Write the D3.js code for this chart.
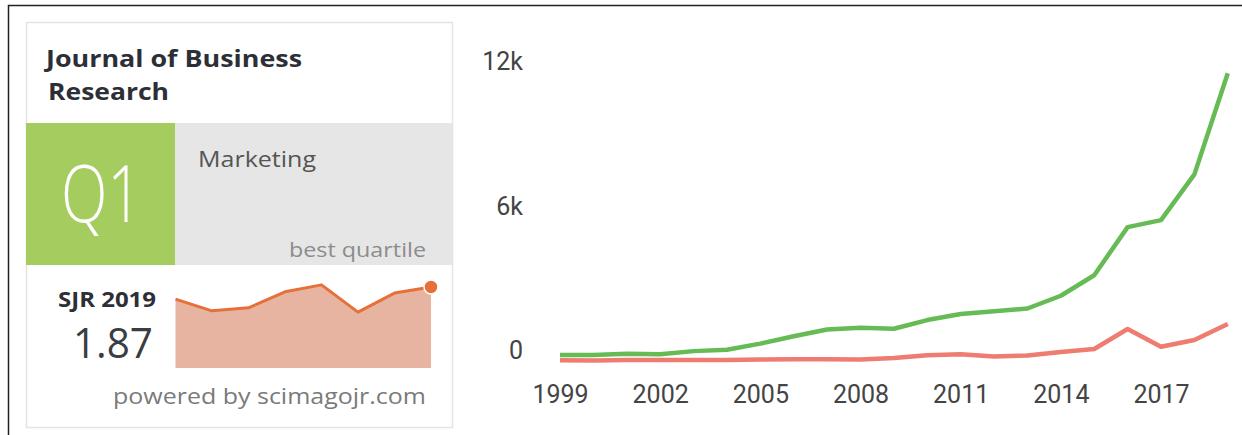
<!DOCTYPE html>
<html><head><meta charset="utf-8">
<script src="https://cdn.jsdelivr.net/npm/d3@7"></script>
<style>
html,body{margin:0;padding:0;background:#fff;}
svg{display:block;}
</style></head>
<body>
<svg id="c" width="1242" height="435"></svg>
<script>
// ---- data ----
const years = [1999,2000,2001,2002,2003,2004,2005,2006,2007,2008,2009,2010,2011,2012,2013,2014,2015,2016,2017,2018,2019];
const greenSeries = [250,250,300,280,410,470,720,1030,1310,1380,1340,1700,1950,2070,2180,2710,3560,5560,5850,7750,11950];
const redSeries = [30,20,40,40,40,40,60,70,70,60,120,240,280,190,230,370,500,1330,590,870,1540];
const yTickValues = [0,6000,12000];
const yTickLabels = ["0","6k","12k"];
const xTickYears = [1999,2002,2005,2008,2011,2014,2017];
const sjrYears = [2012,2013,2014,2015,2016,2017,2018,2019];
const sjrValues = [1.59,1.32,1.39,1.76,1.92,1.29,1.73,1.87];
const journalTitle = ["Journal of Business","Research"];
const quartile = "Q1";
const category = "Marketing";
const sjrLabel = "SJR 2019";
const sjrValueText = "1.87";

const svg = d3.select("#c");

// outer frame
svg.append("path").attr("d","M8.5,435 V5.5 H1242").attr("fill","none").attr("stroke","#222").attr("stroke-width",1.5);

// ---- widget ----
const W = svg.append("g").style("font-family","'Open Sans', 'Noto Sans', sans-serif");
W.append("rect").attr("x",26.5).attr("y",22.5).attr("width",426).attr("height",405)
  .attr("fill","#fff").attr("stroke","#e4e4e4").attr("stroke-width",1.5);
W.append("rect").attr("x",26).attr("y",123).attr("width",149).attr("height",142).attr("fill","#a4cc5e");
W.append("rect").attr("x",175).attr("y",123).attr("width",277).attr("height",142).attr("fill","#e6e6e6");

W.append("text").attr("x",46).attr("y",67).text(journalTitle[0])
  .attr("font-size",23).attr("font-weight",700).attr("fill","#2c2f36")
  .attr("textLength",256).attr("lengthAdjust","spacingAndGlyphs");
W.append("text").attr("x",48).attr("y",100).text(journalTitle[1])
  .attr("font-size",23).attr("font-weight",700).attr("fill","#2c2f36")
  .attr("textLength",121).attr("lengthAdjust","spacingAndGlyphs");

W.append("text").attr("x",61).attr("y",222).text(quartile)
  .attr("font-size",80).attr("font-weight",300).attr("fill","#fff")
  .attr("textLength",81).attr("lengthAdjust","spacingAndGlyphs");
W.append("text").attr("x",198).attr("y",167).text(category)
  .attr("font-size",21).attr("fill","#555")
  .attr("textLength",118).attr("lengthAdjust","spacingAndGlyphs");
W.append("text").attr("x",289).attr("y",257).text("best quartile")
  .attr("font-size",20).attr("fill","#8c8c8c")
  .attr("textLength",137).attr("lengthAdjust","spacingAndGlyphs");

W.append("text").attr("x",58).attr("y",307).text(sjrLabel)
  .attr("font-size",21).attr("font-weight",700).attr("fill","#2c2f36")
  .attr("textLength",98).attr("lengthAdjust","spacingAndGlyphs");
W.append("text").attr("x",73).attr("y",358).text(sjrValueText)
  .attr("font-size",42).attr("font-weight",400).attr("fill","#3a3d42")
  .attr("textLength",80).attr("lengthAdjust","spacingAndGlyphs");
W.append("text").attr("x",113).attr("y",404).text("powered by scimagojr.com")
  .attr("font-size",21).attr("fill","#7a7a7a")
  .attr("textLength",313).attr("lengthAdjust","spacingAndGlyphs");

// sparkline
const sx = d3.scaleLinear().domain([sjrYears[0], sjrYears[sjrYears.length-1]]).range([175.5, 431]);
const sy = d3.scaleLinear().domain([0, 2]).range([368, 281.4]);
const sd = sjrYears.map((yr,i)=>({yr, v:sjrValues[i]}));
W.append("path").datum(sd)
  .attr("d", d3.area().x(d=>sx(d.yr)).y0(sy(0)).y1(d=>sy(d.v)))
  .attr("fill","#e6b4a0");
W.append("path").datum(sd)
  .attr("d", d3.line().x(d=>sx(d.yr)).y(d=>sy(d.v)))
  .attr("fill","none").attr("stroke","#e6703a").attr("stroke-width",3).attr("stroke-linejoin","round");
const last = sd[sd.length-1];
W.append("circle").attr("cx",sx(last.yr)).attr("cy",sy(last.v)).attr("r",7)
  .attr("fill","#e6703a").attr("stroke","#fff").attr("stroke-width",1.5);

// ---- right chart ----
const x = d3.scaleLinear().domain([1999, 2017]).range([560, 1161]);
const y = d3.scaleLinear().domain([0, 6000]).range([361, 216.5]);

const C = svg.append("g").style("font-family","Roboto, sans-serif");

const yAxis = d3.axisLeft(y).tickValues(yTickValues)
  .tickFormat((d,i)=>yTickLabels[i]).tickSize(0).tickPadding(0);
const ya = C.append("g").attr("transform","translate(523,0)").call(yAxis);
ya.select(".domain").remove();
ya.selectAll("text").attr("font-size",25).attr("fill","#444").attr("font-family","Roboto, sans-serif")
  .attr("dy",null).attr("dominant-baseline","central").attr("y",-11);

const xAxis = d3.axisBottom(x).tickValues(xTickYears).tickFormat(d3.format("d")).tickSize(0).tickPadding(0);
const xa = C.append("g").attr("transform","translate(0,361)").call(xAxis);
xa.select(".domain").remove();
xa.selectAll("text").attr("font-size",25).attr("fill","#444").attr("font-family","Roboto, sans-serif")
  .attr("dy",null).attr("y",42);

const line = d3.line().x((d,i)=>x(years[i])).y(d=>y(d));
C.append("path").datum(redSeries).attr("d",line)
  .attr("fill","none").attr("stroke","#ee7c70").attr("stroke-width",4.5).attr("stroke-linejoin","round");
C.append("path").datum(greenSeries).attr("d",line)
  .attr("fill","none").attr("stroke","#66bb55").attr("stroke-width",4.5).attr("stroke-linejoin","round");
</script>
</body></html>
